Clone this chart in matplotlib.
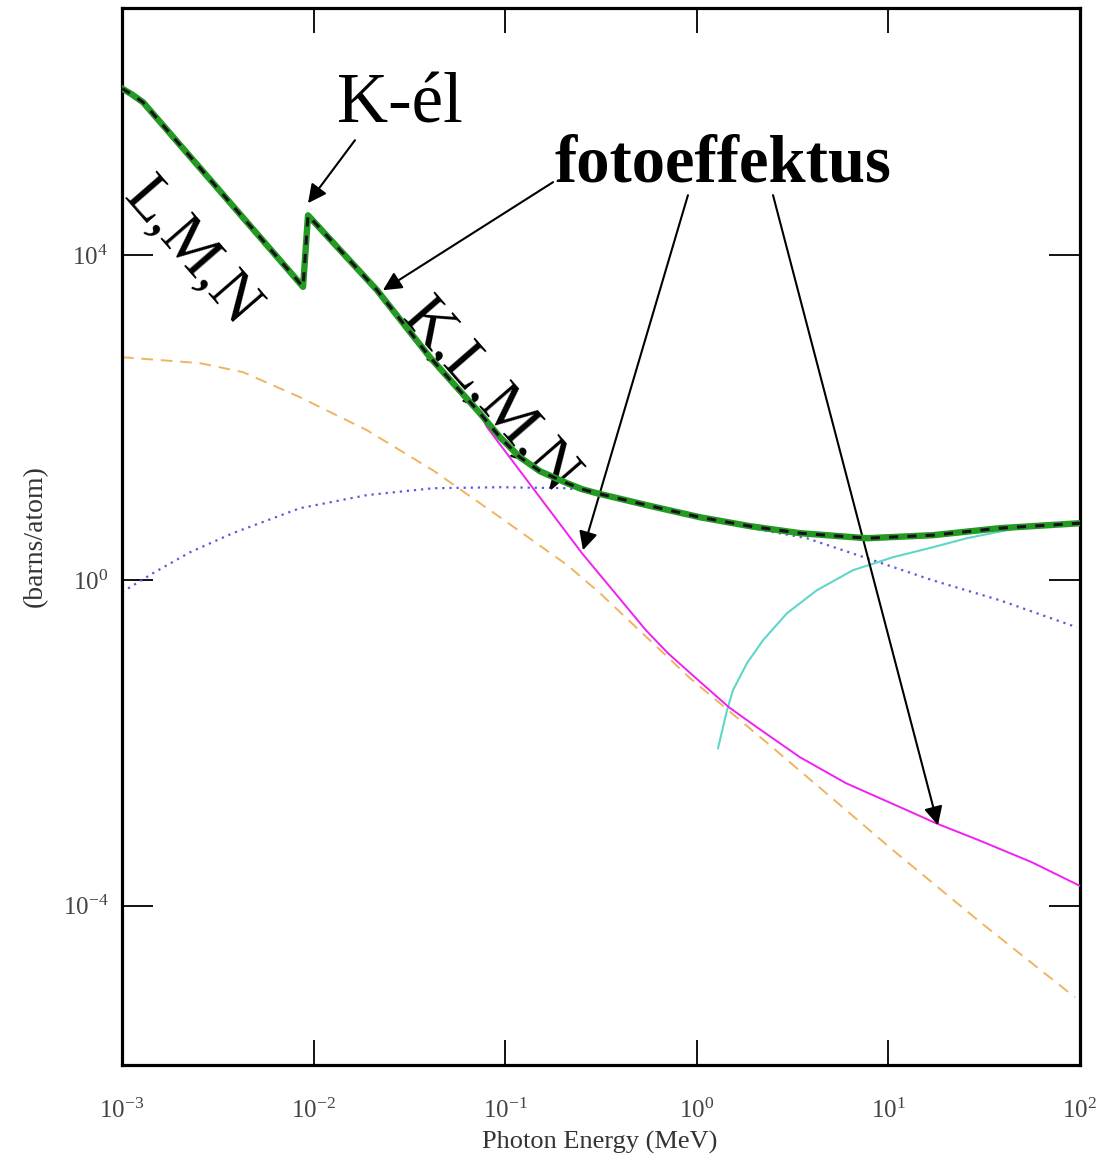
import numpy as np
import matplotlib
matplotlib.use("Agg")
import matplotlib.pyplot as plt

plt.rcParams['font.family'] = ['Liberation Serif', 'DejaVu Serif']
plt.rcParams['mathtext.fontset'] = 'custom'
plt.rcParams['mathtext.rm'] = 'Liberation Serif'

# Photon energy (MeV) and cross sections (barns/atom)
total_E = [0.001, 0.001122, 0.001288, 0.00881, 0.009354, 0.02143, 0.04046, 0.07379,
           0.09397, 0.1194, 0.1521, 0.2104, 0.2518, 0.3013, 0.5495, 1.040, 1.897,
           3.459, 7.727, 17.10, 38.19, 100.0]
total_S = [1.122e6, 9.55e5, 7.59e5, 4074, 30900, 3715, 556, 114,
           57.7, 32.7, 22.0, 15.7, 13.24, 11.8, 8.41, 5.98, 4.645,
           3.81, 3.30, 3.60, 4.39, 5.05]

photo_E = [0.001, 0.001122, 0.001288, 0.00881, 0.009354, 0.02143, 0.04046, 0.07379,
           0.0804, 0.2518, 0.543, 0.708, 1.091, 1.472, 2.061, 3.459, 6.012,
           12.50, 17.70, 29.72, 56.10, 100.0]
photo_S = [1.122e6, 9.55e5, 7.59e5, 4074, 30900, 3715, 556, 114,
           76.6, 2.158, 0.2438, 0.127, 0.0513, 0.02754, 0.01563, 0.006683, 0.003206,
           0.001493, 0.001033, 6.37e-4, 3.42e-4, 1.75e-4]

coh_E = [0.001, 0.002553, 0.004285, 0.008492, 0.01901, 0.04198, 0.09397, 0.2104,
         0.3126, 0.4018, 0.9226, 2.244, 5.333, 10.57, 30.06, 94.2]
coh_S = [556, 470, 364, 179, 70.3, 22.6, 5.98, 1.549,
         0.6966, 0.3981, 0.06266, 0.01081, 0.001905, 4.808e-4, 6.31e-5, 7.46e-6]

incoh_E = [0.001, 0.001452, 0.002265, 0.00379, 0.00849, 0.0190, 0.0420, 0.0940,
           0.2104, 0.3126, 1.040, 3.758, 7.727, 17.10, 38.19, 96.4]
incoh_S = [0.716, 1.227, 2.22, 3.81, 7.73, 11.2, 13.6, 14.0,
           13.6, 11.8, 5.75, 3.30, 1.875, 1.0, 0.570, 0.265]

pair_E = [1.291, 1.439, 1.545, 1.828, 2.218, 2.958, 4.236, 6.531,
          10.57, 17.10, 25.70, 46.88, 100.0]
pair_S = [0.00863, 0.0253, 0.0446, 0.0959, 0.184, 0.395, 0.757, 1.334,
          1.928, 2.559, 3.304, 4.385, 5.05]

fig = plt.figure(figsize=(11.09, 11.57), dpi=100)
ax = fig.add_axes([0.110, 0.0795, 0.8638, 0.9136])
ax.set_xscale('log')
ax.set_yscale('log')
ax.set_xlim(1e-3, 1e2)
ax.set_ylim(10**-5.96, 10**7.04)

ax.plot(coh_E, coh_S, color='#f0b460', ls=(0, (6, 4)), lw=1.4, zorder=2)
ax.plot(incoh_E, incoh_S, color='#5a5ad8', ls=(0, (1, 2.2)), lw=1.6, zorder=2)
ax.plot(pair_E, pair_S, color='#5fd6c8', lw=1.5, zorder=2)
ax.plot(photo_E, photo_S, color='#f020f0', lw=1.4, zorder=3)
ax.plot(total_E, total_S, color='#239b23', lw=4.6, zorder=4)
ax.plot(total_E, total_S, color='#1a0f1a', lw=2.2, ls=(0, (3, 3)), zorder=5)

# Axes styling
for sp in ax.spines.values():
    sp.set_linewidth(2.3)
ax.minorticks_off()
ax.set_xticks([1e-3, 1e-2, 1e-1, 1e0, 1e1, 1e2])
ax.set_xticklabels([r'$\mathregular{10^{-3}}$', r'$\mathregular{10^{-2}}$',
                    r'$\mathregular{10^{-1}}$', r'$\mathregular{10^{0}}$',
                    r'$\mathregular{10^{1}}$', r'$\mathregular{10^{2}}$'])
ax.set_yticks([1e4, 1e0, 1e-4])
ax.set_yticklabels([r'$\mathregular{10^{4}}$', r'$\mathregular{10^{0}}$',
                    r'$\mathregular{10^{-4}}$'])
ax.tick_params(axis='x', which='major', direction='in', length=18, width=1.3,
               top=True, bottom=True, labelsize=18, labelcolor='#444444', pad=24)
ax.tick_params(axis='y', which='major', direction='in', length=22, width=1.3,
               left=True, right=True, labelsize=18, labelcolor='#444444', pad=10)

ax.set_xlabel('Photon Energy (MeV)', fontsize=19, color='#333333')
ax.xaxis.set_label_coords(0.499, -0.0625)
ax.set_ylabel('(barns/atom)', fontsize=20, color='#333333')
ax.yaxis.set_label_coords(-0.077, 0.5)

# Annotations
arrow = dict(arrowstyle='-|>', color='black', lw=1.5, mutation_scale=28,
             shrinkA=0, shrinkB=0)
ax.text(10**-1.549, 10**5.845, 'K-él', fontsize=51, ha='center', va='center')
ax.annotate('', xy=(10**-2.029, 10**4.64), xytext=(10**-1.784, 10**5.414),
            arrowprops=arrow)

ax.text(10**0.137, 10**5.107, 'fotoeffektus', fontsize=48, fontweight='bold',
        ha='center', va='center')
ax.annotate('', xy=(10**-1.638, 10**3.569), xytext=(10**-0.75, 10**4.898),
            arrowprops=arrow)
ax.annotate('', xy=(10**-0.594, 10**0.371), xytext=(10**-0.046, 10**4.738),
            arrowprops=arrow)
ax.annotate('', xy=(10**1.259, 10**-3.011), xytext=(10**0.398, 10**4.738),
            arrowprops=arrow)

ax.text(10**-2.64, 10**4.03, 'L,M,N', fontsize=46, rotation=-49,
        rotation_mode='anchor', ha='center', va='center')
ax.text(10**-1.085, 10**2.26, 'K,L,M,N', fontsize=46, rotation=-49,
        rotation_mode='anchor', ha='center', va='center')

fig.savefig('out.png', dpi=100)
